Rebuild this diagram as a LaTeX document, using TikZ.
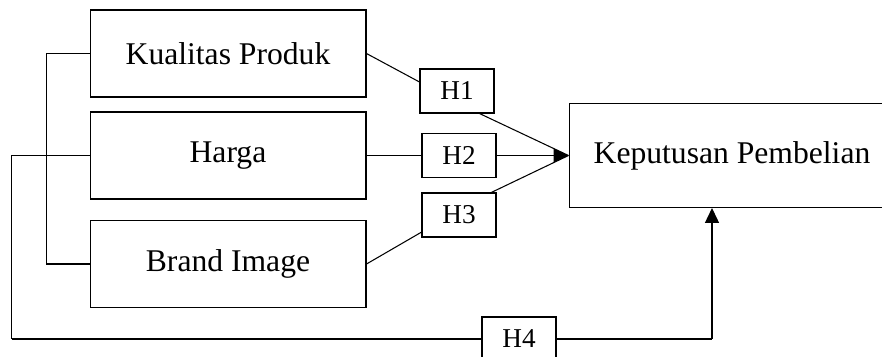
\documentclass[tikz,border=0pt]{standalone}
\usepackage{fontspec}
\setmainfont{Liberation Serif}
\usetikzlibrary{arrows.meta, positioning, calc}

\begin{document}
\begin{tikzpicture}[x=0.02cm, y=-0.02cm,
    var/.style={draw, line width=0.6pt, minimum width=5.52cm, minimum height=1.74cm, font=\fontsize{18}{20}\selectfont},
    hyp/.style={draw, line width=0.6pt, minimum width=1.48cm, minimum height=0.88cm, inner sep=0pt, font=\fontsize{15.5}{17}\selectfont},
    link/.style={line width=0.6pt},
    tip/.style={-{Triangle[length=8.5pt, width=8pt]}}]
    \clip (0, 0) rectangle (882, 356);

    % Variables X
    \node[var] (kp) at (228, 53.5) {Kualitas Produk};
    \node[var] (hg) at (228, 155.5) {Harga};
    \node[var] (bi) at (228, 264) {Brand Image};
    % Variable Y
    \node[var, minimum width=6.52cm, minimum height=2.08cm] (kep) at (732, 155.5) {Keputusan Pembelian};

    % Hypotheses
    \node[hyp] (h1) at (457, 91) {H1};
    \node[hyp] (h2) at (459, 155.5) {H2};
    \node[hyp] (h3) at (459, 215) {H3};
    \node[hyp] (h4) at (519, 339) {H4};

    % Partial paths H1 - H3
    \draw[link] (kp.east) -- ($(h1.north west)!0.3!(h1.south west)$);
    \draw[link] ($(h1.south west)!0.8!(h1.south east)$) -- (kep.west);
    \draw[link] (hg.east) -- (h2.west);
    \draw[link, tip] (h2.east) -- (kep.west);
    \draw[link] (bi.east) -- ($(h3.north west)!0.88!(h3.south west)$);
    \draw[link] ($(h3.north west)!0.93!(h3.north east)$) -- (kep.west);

    % Bracket joining X1 - X3
    \draw[link] (kp.west) -- ++(-43, 0) |- (bi.west);

    % Simultaneous path H4
    \coordinate (lft) at ($(hg.west) + (-78, 0)$);
    \coordinate (rgt) at (712, 339);
    \draw[link] (hg.west) -- (lft) -- (lft |- h4.west);
    \draw[line width=1.1pt] (lft |- h4.west) -- (h4.west) (h4.east) -- (rgt);
    \draw[link, tip] (rgt) -- (rgt |- kep.south);
\end{tikzpicture}
\end{document}
